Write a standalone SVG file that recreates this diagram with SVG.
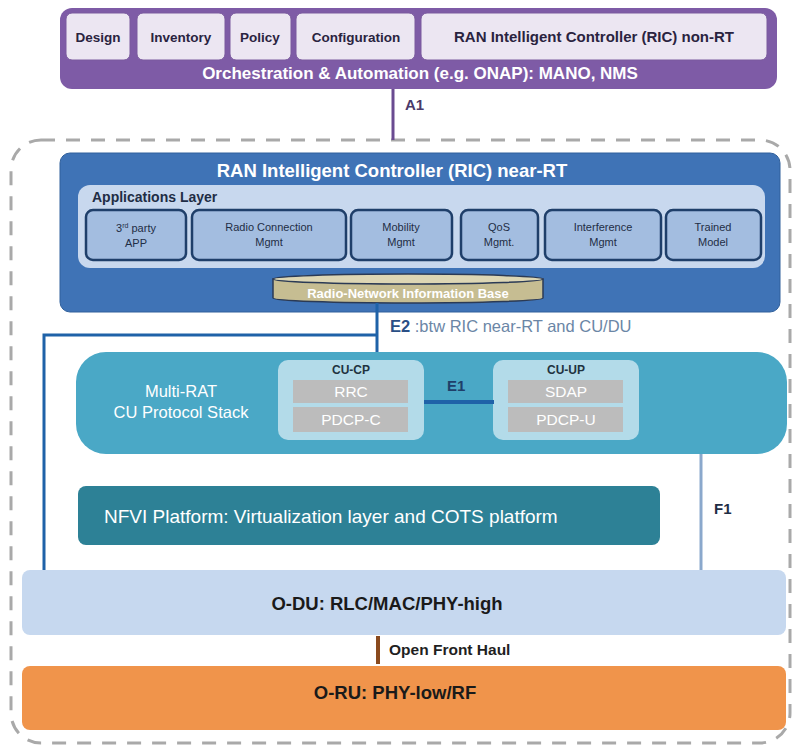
<svg xmlns="http://www.w3.org/2000/svg" width="795" height="746" viewBox="0 0 795 746">
<style>
text{font-family:"Liberation Sans",Arial,sans-serif}
.b{font-weight:bold}
.orchItem{fill:#ece6f2;stroke:#7a5a9e;stroke-width:1}
.orchT{font-size:13.5px;fill:#2a2340;font-weight:bold}
.app{fill:#a3bde0;stroke:#1f3f6a;stroke-width:2.5}
.appT{font-size:11px;fill:#1f2d45;text-anchor:middle}
.sub{fill:#bcbcbc}
.subT{font-size:15.5px;fill:#ffffff;text-anchor:middle}
.cuInner{fill:#b3dbe9}
</style>
<rect width="795" height="746" fill="#ffffff"/>

<!-- dashed outer boundary -->
<rect x="11" y="140" width="779" height="603" rx="30" fill="none" stroke="#a9a9a9" stroke-width="3" stroke-dasharray="14 11"/>

<g id="orchestration">
  <rect x="60" y="8" width="717" height="81" rx="12" fill="#7e5ba6"/>
  <rect x="66" y="13" width="64" height="47" rx="6" class="orchItem"/>
  <rect x="137" y="13" width="88" height="47" rx="6" class="orchItem"/>
  <rect x="230" y="13" width="61" height="47" rx="6" class="orchItem"/>
  <rect x="296" y="13" width="119" height="47" rx="6" class="orchItem"/>
  <rect x="421" y="13" width="346" height="47" rx="6" class="orchItem"/>
  <text x="98" y="42" text-anchor="middle" class="orchT">Design</text>
  <text x="181" y="42" text-anchor="middle" class="orchT">Inventory</text>
  <text x="260" y="42" text-anchor="middle" class="orchT">Policy</text>
  <text x="356" y="42" text-anchor="middle" class="orchT">Configuration</text>
  <text x="594" y="42" text-anchor="middle" class="orchT" style="font-size:15px">RAN Intelligent Controller (RIC) non-RT</text>
  <text x="420" y="79" text-anchor="middle" class="b" font-size="17" fill="#ffffff">Orchestration &amp; Automation (e.g. ONAP): MANO, NMS</text>
</g>

<g id="ric-near-rt">
  <rect x="60" y="153" width="720" height="159" rx="10" fill="#3f73b6" stroke="#30609c" stroke-width="1"/>
  <text x="392" y="177" text-anchor="middle" class="b" font-size="18.5" fill="#ffffff">RAN Intelligent Controller (RIC) near-RT</text>
  <rect x="78" y="185" width="687" height="83" rx="12" fill="#c8d8ee"/>
  <text x="92" y="202" class="b" font-size="14" fill="#1f2d45">Applications Layer</text>
  <g id="app-3rdparty"><rect x="86" y="210" width="100" height="50" rx="7" class="app"/><text x="136" y="232" class="appT">3<tspan font-size="7" dy="-4">rd</tspan><tspan dy="4"> party</tspan></text><text x="136" y="247" class="appT">APP</text></g>
  <g id="app-rcm"><rect x="192" y="210" width="154" height="50" rx="7" class="app"/><text x="269" y="231" class="appT">Radio Connection</text><text x="269" y="246" class="appT">Mgmt</text></g>
  <g id="app-mobility"><rect x="351" y="210" width="101" height="50" rx="7" class="app"/><text x="401" y="231" class="appT">Mobility</text><text x="401" y="246" class="appT">Mgmt</text></g>
  <g id="app-qos"><rect x="461" y="210" width="77" height="50" rx="7" class="app"/><text x="499" y="231" class="appT">QoS</text><text x="499" y="246" class="appT">Mgmt.</text></g>
  <g id="app-interference"><rect x="545" y="210" width="116" height="50" rx="7" class="app"/><text x="603" y="231" class="appT">Interference</text><text x="603" y="246" class="appT">Mgmt</text></g>
  <g id="app-trained"><rect x="666" y="210" width="95" height="50" rx="7" class="app"/><text x="713" y="231" class="appT">Trained</text><text x="713" y="246" class="appT">Model</text></g>
  <g id="rnib">
    <path d="M273,279 L273,298 A135,5 0 0 0 543,298 L543,279 Z" fill="#c6bd92" stroke="#2b3a55" stroke-width="1.5"/>
    <ellipse cx="408" cy="279" rx="135" ry="5" fill="#ddd6b4" stroke="#2b3a55" stroke-width="1.5"/>
    <text x="408" y="298" text-anchor="middle" class="b" font-size="13" fill="#ffffff">Radio-Network Information Base</text>
  </g>
</g>

<g id="cu">
  <rect x="76" y="352" width="711" height="102" rx="30" fill="#4aa8c6"/>
  <text x="181" y="397" text-anchor="middle" font-size="16.5" fill="#ffffff">Multi-RAT</text>
  <text x="181" y="418" text-anchor="middle" font-size="16.5" fill="#ffffff">CU Protocol Stack</text>
  <g id="cu-cp">
    <rect x="278" y="360" width="146" height="80" rx="10" class="cuInner"/>
    <text x="351" y="374" text-anchor="middle" class="b" font-size="12" fill="#1f3340">CU-CP</text>
    <rect x="293" y="380" width="115" height="23" class="sub"/>
    <text x="351" y="397" class="subT">RRC</text>
    <rect x="293" y="407" width="115" height="25" class="sub"/>
    <text x="351" y="425" class="subT">PDCP-C</text>
  </g>
  <g id="cu-up">
    <rect x="493" y="360" width="146" height="80" rx="10" class="cuInner"/>
    <text x="566" y="374" text-anchor="middle" class="b" font-size="12" fill="#1f3340">CU-UP</text>
    <rect x="508" y="380" width="115" height="23" class="sub"/>
    <text x="566" y="397" class="subT">SDAP</text>
    <rect x="508" y="407" width="115" height="25" class="sub"/>
    <text x="566" y="425" class="subT">PDCP-U</text>
  </g>
</g>

<g id="nfvi">
  <rect x="78" y="486" width="582" height="59" rx="8" fill="#2d8196"/>
  <text x="104" y="523" font-size="19" fill="#ffffff">NFVI Platform: Virtualization layer and COTS platform</text>
</g>

<g id="o-du">
  <rect x="22" y="570" width="764" height="65" rx="8" fill="#c6d8ef"/>
  <text x="387" y="610" text-anchor="middle" class="b" font-size="18.5" fill="#1a1a1a">O-DU: RLC/MAC/PHY-high</text>
</g>

<g id="o-ru">
  <rect x="22" y="666" width="764" height="64" rx="8" fill="#f0944b"/>
  <text x="395" y="699" text-anchor="middle" class="b" font-size="18.5" fill="#1a1a1a">O-RU: PHY-low/RF</text>
</g>

<g id="connectors">
  <line x1="393" y1="89" x2="393" y2="140" stroke="#6a4b91" stroke-width="3"/>
  <polyline points="377,303 377,352" fill="none" stroke="#1f62a8" stroke-width="3"/>
  <polyline points="377,335 44,335 44,570" fill="none" stroke="#1f62a8" stroke-width="3"/>
  <line x1="424" y1="402" x2="494" y2="402" stroke="#1f62a8" stroke-width="4"/>
  <line x1="701" y1="454" x2="701" y2="570" stroke="#8aa8cc" stroke-width="3"/>
  <line x1="378" y1="636" x2="378" y2="664" stroke="#8a4a1e" stroke-width="4"/>
  <text x="405" y="110" class="b" font-size="15" fill="#4a3a6a">A1</text>
  <text x="390" y="332" font-size="16.5" fill="#6b86a6"><tspan class="b" fill="#2a4f86">E2 </tspan>:btw RIC near-RT and CU/DU</text>
  <text x="447" y="391" class="b" font-size="15" fill="#1f3f6a">E1</text>
  <text x="714" y="514" class="b" font-size="15" fill="#1f2d45">F1</text>
  <text x="389" y="655" class="b" font-size="15.5" fill="#1f1f1f">Open Front Haul</text>
</g>
</svg>
